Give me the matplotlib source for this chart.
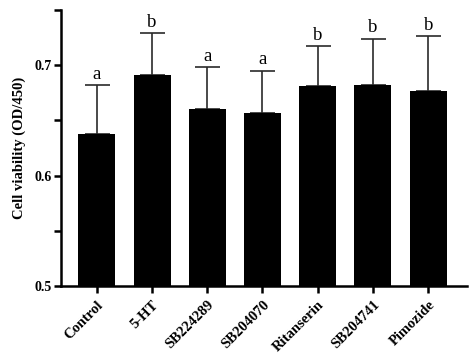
import numpy as np
import matplotlib
matplotlib.use("Agg")
import matplotlib.pyplot as plt

groups = ['Control', '5-HT', 'SB224289', 'SB204070', 'Ritanserin', 'SB204741', 'Pimozide']
viability = [0.638, 0.691, 0.660, 0.657, 0.681, 0.682, 0.677]
sd = [0.044, 0.038, 0.038, 0.038, 0.036, 0.042, 0.049]
letters = ['a', 'b', 'a', 'a', 'b', 'b', 'b']
yticks = [0.5, 0.55, 0.6, 0.65, 0.7, 0.75]
ytick_labels = ['0.5', '', '0.6', '', '0.7', '']

plt.rcParams['font.family'] = ['Liberation Serif', 'DejaVu Serif']

fig = plt.figure(figsize=(4.74, 3.56), dpi=100)
ax = fig.add_axes([0.129, 0.197, 0.856, 0.775])

x = np.arange(len(groups))
ax.bar(x, viability, width=0.67, color='black', zorder=2)
ax.errorbar(x, viability, yerr=[np.zeros(len(sd)), sd], fmt='none',
            ecolor='#2a2a2a', elinewidth=1.2, capsize=9, capthick=1.2, zorder=1)

for xi, v, s, lab in zip(x, viability, sd, letters):
    ax.text(xi, v + s + 0.002, lab, ha='center', va='bottom', fontsize=13.5)

ax.set_ylim(0.5, 0.75)
ax.set_xlim(-0.645, 6.7)
ax.set_yticks(yticks)
ax.set_yticklabels(ytick_labels, fontweight='bold', fontsize=10)
ax.set_xticks(x)
ax.set_xticklabels(groups, rotation=45, ha='right', rotation_mode='anchor',
                   fontweight='bold', fontsize=10.5)
ax.set_ylabel('Cell viability (OD/450)', fontweight='bold', fontsize=10.5, labelpad=6)

for side in ['top', 'right']:
    ax.spines[side].set_visible(False)
for side in ['left', 'bottom']:
    ax.spines[side].set_linewidth(1.8)
ax.tick_params(axis='both', which='major', width=1.8, length=5, pad=2)
ax.tick_params(axis='x', which='major', pad=4)

fig.savefig('out.png', dpi=100)
